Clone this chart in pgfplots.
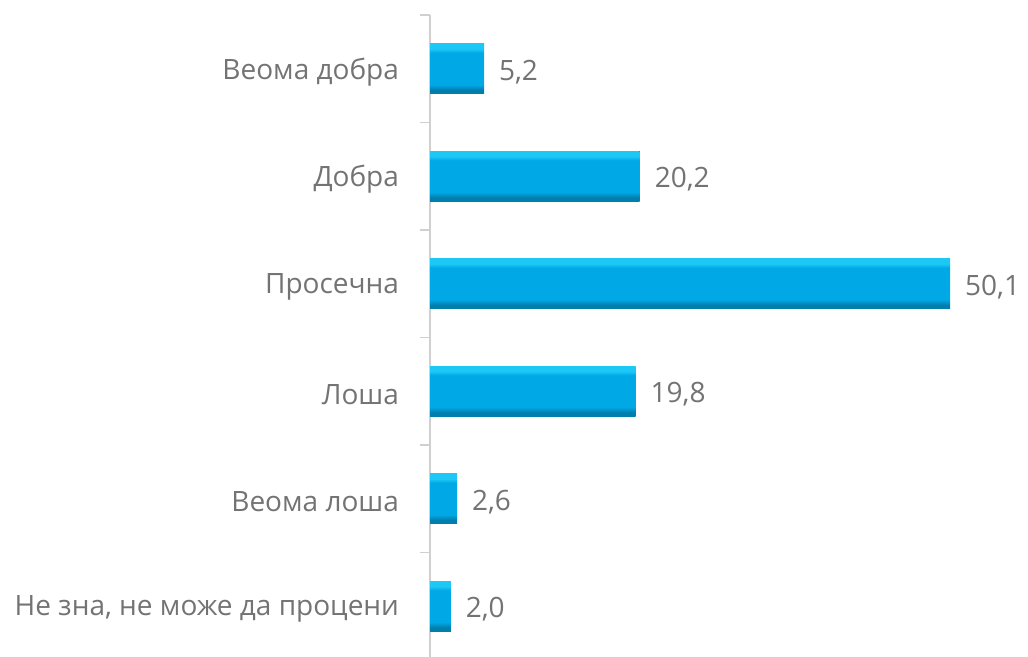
\documentclass[border=0pt]{standalone}
\usepackage{fontspec}
\setmainfont{Open Sans}
\usepackage{pgfplots}
\pgfplotsset{compat=1.18}
\definecolor{barlt}{HTML}{1EC8F6}
\definecolor{barmid}{HTML}{00A8E6}
\definecolor{bardk}{HTML}{007FAE}
\definecolor{txtgray}{HTML}{737373}
\definecolor{axgray}{HTML}{D0D0D0}
\pgfdeclareverticalshading{bevel}{100bp}{color(0bp)=(bardk); color(25bp)=(bardk); color(29bp)=(bardk); color(34bp)=(barmid); color(66bp)=(barmid); color(70bp)=(barlt); color(75bp)=(barlt); color(100bp)=(barlt)}

\begin{document}
\begin{tikzpicture}
  \begin{axis}[
      x=5.19pt, y=53.75pt,
      xmin=0, xmax=55,
      ymin=-0.5, ymax=5.5,
      axis x line=none,
      axis y line*=left,
      axis line style={axgray, line width=0.8pt},
      ytick={0,...,5},
      yticklabels={{Не зна, не може да процени}, {Веома лоша}, {Лоша}, {Просечна}, {Добра}, {Веома добра}},
      minor ytick={-0.5,0.5,...,5.5},
      major tick length=0pt,
      minor tick length=5pt,
      tick align=outside,
      minor tick style={axgray, line width=0.8pt},
      yticklabel style={font=\fontsize{14}{17}\selectfont, text=txtgray, xshift=-12pt, yshift=-1.5pt},
      xbar,
      bar width=25pt,
      bar shift=0pt,
      nodes near coords={\pgfmathprintnumber[fixed, fixed zerofill, precision=1, use comma, assume math mode=true]{\pgfplotspointmeta}},
      nodes near coords style={anchor=west, xshift=4pt, yshift=-1.5pt, text=txtgray, font=\fontsize{14}{17}\selectfont},
      every axis plot/.append style={draw=none, shading=bevel},
      clip=false,
    ]
    % one plot per bar so that each bar gets its own bevel shading
    \addplot coordinates {(2.0,0)};
    \addplot coordinates {(2.6,1)};
    \addplot coordinates {(19.8,2)};
    \addplot coordinates {(50.1,3)};
    \addplot coordinates {(20.2,4)};
    \addplot coordinates {(5.2,5)};
    \coordinate (bbl) at (axis cs:-41.43,-0.463);
    \coordinate (btr) at (axis cs:57.61,5.64);
  \end{axis}
  \pgfresetboundingbox
  \useasboundingbox (bbl) rectangle (btr);
\end{tikzpicture}
\end{document}
